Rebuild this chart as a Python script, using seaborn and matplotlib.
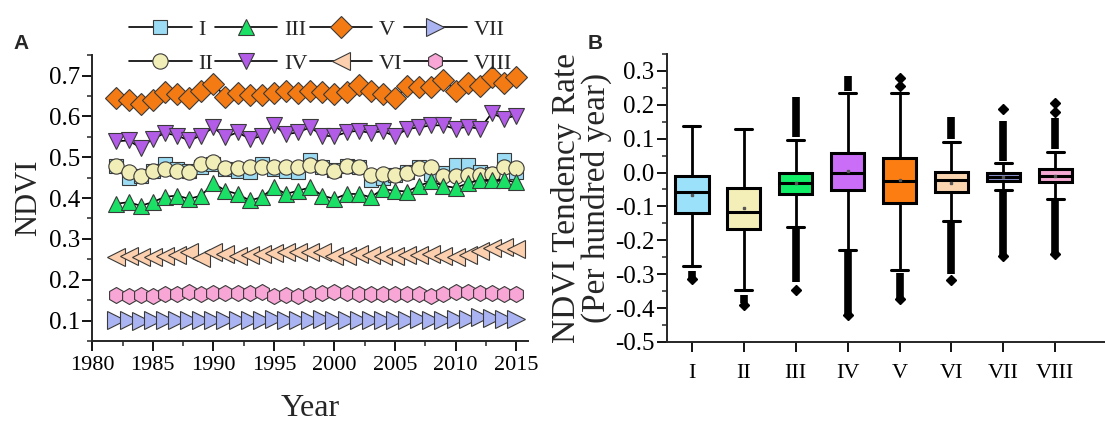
import numpy as np
import matplotlib
matplotlib.use("Agg")
from matplotlib import pyplot as plt
from matplotlib.ticker import MultipleLocator
import seaborn as sns

# ---- panel A: NDVI time series per region ----
years = list(range(1982, 2016))
regions = ["I", "II", "III", "IV", "V", "VI", "VII", "VIII"]

ndvi_I = [0.478, 0.449, 0.455, 0.467, 0.484, 0.470, 0.465, 0.476, 0.483, 0.472, 0.466, 0.463,
          0.484, 0.470, 0.467, 0.463, 0.492, 0.476, 0.469, 0.478, 0.476, 0.444, 0.450, 0.457,
          0.463, 0.475, 0.459, 0.462, 0.481, 0.480, 0.463, 0.458, 0.492, 0.464]
ndvi_II = [0.479, 0.463, 0.455, 0.465, 0.470, 0.467, 0.463, 0.484, 0.488, 0.474, 0.474, 0.475,
           0.475, 0.477, 0.475, 0.475, 0.482, 0.475, 0.467, 0.479, 0.475, 0.457, 0.459, 0.457,
           0.461, 0.474, 0.475, 0.455, 0.455, 0.457, 0.457, 0.459, 0.477, 0.474]
ndvi_III = [0.386, 0.390, 0.381, 0.390, 0.403, 0.406, 0.398, 0.406, 0.436, 0.418, 0.410, 0.394,
            0.402, 0.426, 0.410, 0.418, 0.426, 0.406, 0.398, 0.410, 0.410, 0.402, 0.422, 0.418,
            0.416, 0.430, 0.441, 0.430, 0.425, 0.436, 0.444, 0.444, 0.444, 0.439]
ndvi_IV = [0.539, 0.541, 0.523, 0.545, 0.559, 0.553, 0.541, 0.553, 0.573, 0.549, 0.561, 0.545,
           0.551, 0.578, 0.556, 0.561, 0.573, 0.553, 0.551, 0.561, 0.565, 0.559, 0.564, 0.551,
           0.569, 0.573, 0.578, 0.578, 0.569, 0.575, 0.569, 0.608, 0.594, 0.602]
ndvi_V = [0.644, 0.639, 0.631, 0.641, 0.659, 0.655, 0.644, 0.663, 0.680, 0.647, 0.657, 0.653,
          0.653, 0.658, 0.662, 0.657, 0.663, 0.659, 0.655, 0.659, 0.676, 0.662, 0.655, 0.644,
          0.674, 0.673, 0.671, 0.690, 0.663, 0.681, 0.674, 0.696, 0.682, 0.696]
ndvi_VI = [0.255, 0.257, 0.255, 0.255, 0.259, 0.260, 0.267, 0.252, 0.267, 0.263, 0.259, 0.260,
           0.263, 0.265, 0.267, 0.267, 0.267, 0.269, 0.259, 0.257, 0.263, 0.260, 0.259, 0.259,
           0.260, 0.260, 0.263, 0.259, 0.255, 0.260, 0.271, 0.277, 0.279, 0.274]
ndvi_VII = [0.101, 0.101, 0.100, 0.101, 0.101, 0.102, 0.101, 0.101, 0.102, 0.101, 0.102, 0.102,
            0.102, 0.103, 0.102, 0.102, 0.102, 0.103, 0.102, 0.102, 0.102, 0.102, 0.102, 0.102,
            0.102, 0.103, 0.102, 0.102, 0.103, 0.104, 0.108, 0.107, 0.104, 0.104]
ndvi_VIII = [0.162, 0.159, 0.162, 0.161, 0.165, 0.165, 0.169, 0.165, 0.167, 0.167, 0.167, 0.167,
             0.171, 0.159, 0.162, 0.161, 0.165, 0.167, 0.169, 0.167, 0.165, 0.165, 0.165, 0.165,
             0.165, 0.165, 0.161, 0.165, 0.171, 0.169, 0.167, 0.167, 0.165, 0.165]

series = [ndvi_I, ndvi_II, ndvi_III, ndvi_IV, ndvi_V, ndvi_VI, ndvi_VII, ndvi_VIII]
markers = ["s", "o", "^", "v", "D", "<", ">", "h"]
msizes = [9.5, 11, 12, 12, 11, 12.5, 12.5, 11.5]
mcolors = ["#9cdcf4", "#f2eeb8", "#1ae066", "#b35ce8", "#f47a14", "#fcd0ae", "#aab4f2", "#f7a6d6"]

# ---- panel B: NDVI tendency rate box statistics ----
q1 = [-0.120, -0.167, -0.063, -0.053, -0.090, -0.056, -0.024, -0.027]
med = [-0.058, -0.115, -0.031, 0.000, -0.024, -0.022, -0.012, -0.010]
q3 = [-0.010, -0.046, -0.002, 0.059, 0.042, 0.003, -0.002, 0.010]
whislo = [-0.275, -0.346, -0.161, -0.228, -0.287, -0.142, -0.051, -0.078]
whishi = [0.137, 0.129, 0.096, 0.234, 0.236, 0.091, 0.028, 0.062]
means = [-0.066, -0.105, -0.030, 0.004, -0.022, -0.031, -0.013, -0.011]
# dense outlier columns (from, to); nan = none
dense_hi = [(np.nan, np.nan), (np.nan, np.nan), (0.105, 0.222), (0.242, 0.285), (np.nan, np.nan),
            (0.098, 0.165), (0.035, 0.152), (0.070, 0.160)]
dense_lo = [(-0.292, -0.312), (-0.362, -0.385), (-0.168, -0.322), (-0.235, -0.420), (-0.295, -0.372),
            (-0.150, -0.298), (-0.058, -0.245), (-0.085, -0.240)]
# single outliers
fliers = [[-0.315], [-0.390], [-0.348], [-0.420], [0.255, 0.280, -0.372], [-0.317],
          [0.187, -0.245], [0.180, 0.205, -0.240]]
box_colors = ["#9be1fa", "#f4efb8", "#10f066", "#ca6ef7", "#fc7e12", "#fbd5b0", "#8e98d4", "#f3a9d3"]

sns.set_theme(style="ticks")
plt.rcParams["font.family"] = ["Liberation Serif", "DejaVu Serif"]
plt.rcParams["xtick.major.size"] = 7
plt.rcParams["ytick.major.size"] = 7
plt.rcParams["xtick.minor.size"] = 3.5
plt.rcParams["ytick.minor.size"] = 3.5
plt.rcParams["xtick.major.width"] = 1.3
plt.rcParams["ytick.major.width"] = 1.3
plt.rcParams["xtick.minor.width"] = 1.1
plt.rcParams["ytick.minor.width"] = 1.1
plt.rcParams["axes.linewidth"] = 1.4

fig = plt.figure(figsize=(11.05, 4.28), dpi=100)
ax1 = fig.add_axes([0.0835, 0.2033, 0.3945, 0.668])
ax2 = fig.add_axes([0.6036, 0.201, 0.3960, 0.673])

for name, vals, mk, ms, fc in zip(regions, series, markers, msizes, mcolors):
    sns.lineplot(x=years, y=vals, ax=ax1, color="black", linewidth=1.2, marker=mk,
                 markersize=ms, markerfacecolor=fc, markeredgecolor="#3a3a3a",
                 markeredgewidth=0.8, label=name, legend=False)

ax1.set_xlim(1980, 2016)
ax1.set_ylim(0.05, 0.75)
ax1.xaxis.set_major_locator(MultipleLocator(5))
ax1.xaxis.set_minor_locator(MultipleLocator(2.5))
ax1.yaxis.set_major_locator(MultipleLocator(0.1))
ax1.yaxis.set_minor_locator(MultipleLocator(0.05))
ax1.tick_params(axis="x", labelsize=16, colors="black")
ax1.tick_params(axis="y", labelsize=18, colors="black", pad=2)
ax1.set_xlabel("Year", fontsize=23, labelpad=14)
ax1.set_ylabel("NDVI", fontsize=22, labelpad=4)
sns.despine(ax=ax1)

handles = ax1.get_lines()[:len(regions)]
fig.legend(handles, regions, loc="upper left", bbox_to_anchor=(0.117, 0.955), ncol=4,
           frameon=False, fontsize=16, handlelength=2.8, handletextpad=0.3,
           columnspacing=0.1, labelspacing=0.6, borderpad=0, borderaxespad=0)

# box plot from the read-off statistics
stats = []
for i, name in enumerate(regions):
    stats.append(dict(label=name, q1=q1[i], med=med[i], q3=q3[i], whislo=whislo[i],
                      whishi=whishi[i], mean=means[i], fliers=fliers[i]))
pos = np.arange(len(regions))
ax2.vlines(pos, [d[0] for d in dense_hi], [d[1] for d in dense_hi], color="black", lw=5.5, zorder=1)
ax2.vlines(pos, [d[0] for d in dense_lo], [d[1] for d in dense_lo], color="black", lw=5.5, zorder=1)
bp = ax2.bxp(stats, positions=pos, widths=0.64, capwidths=0.33, patch_artist=True, showmeans=True,
             boxprops=dict(linewidth=2.2, edgecolor="black"),
             medianprops=dict(color="black", linewidth=2.2),
             whiskerprops=dict(color="black", linewidth=2.0),
             capprops=dict(color="black", linewidth=2.2),
             meanprops=dict(marker="s", markersize=1.5, markerfacecolor="#555555", markeredgecolor="#555555"),
             flierprops=dict(marker="D", markersize=5.5, markerfacecolor="black", markeredgecolor="black"))
for patch, c in zip(bp["boxes"], box_colors):
    patch.set_facecolor(c)

ax2.set_xlim(-0.48, 7.95)
ax2.set_ylim(-0.5, 0.35)
ax2.yaxis.set_minor_locator(MultipleLocator(0.05))
ax2.set_yticks(np.arange(-0.5, 0.31, 0.1))
ax2.set_yticklabels([f"{v:.1f}" if abs(v) > 1e-9 else "0.0" for v in np.arange(-0.5, 0.31, 0.1)])
ax2.set_xticks(pos)
ax2.set_xticklabels(regions)
ax2.tick_params(axis="x", labelsize=16, colors="black", pad=9)
ax2.tick_params(axis="y", labelsize=18, colors="black", pad=2)
ax2.set_ylabel("NDVI Tendency Rate\n(Per hundred year)", fontsize=24, labelpad=2, linespacing=0.95)
sns.despine(ax=ax2)

fig.text(0.012, 0.885, "A", fontsize=15, fontweight="bold", family="Liberation Sans")
fig.text(0.532, 0.885, "B", fontsize=15, fontweight="bold", family="Liberation Sans")

fig.savefig("out.png", dpi=100)
plt.close(fig)
